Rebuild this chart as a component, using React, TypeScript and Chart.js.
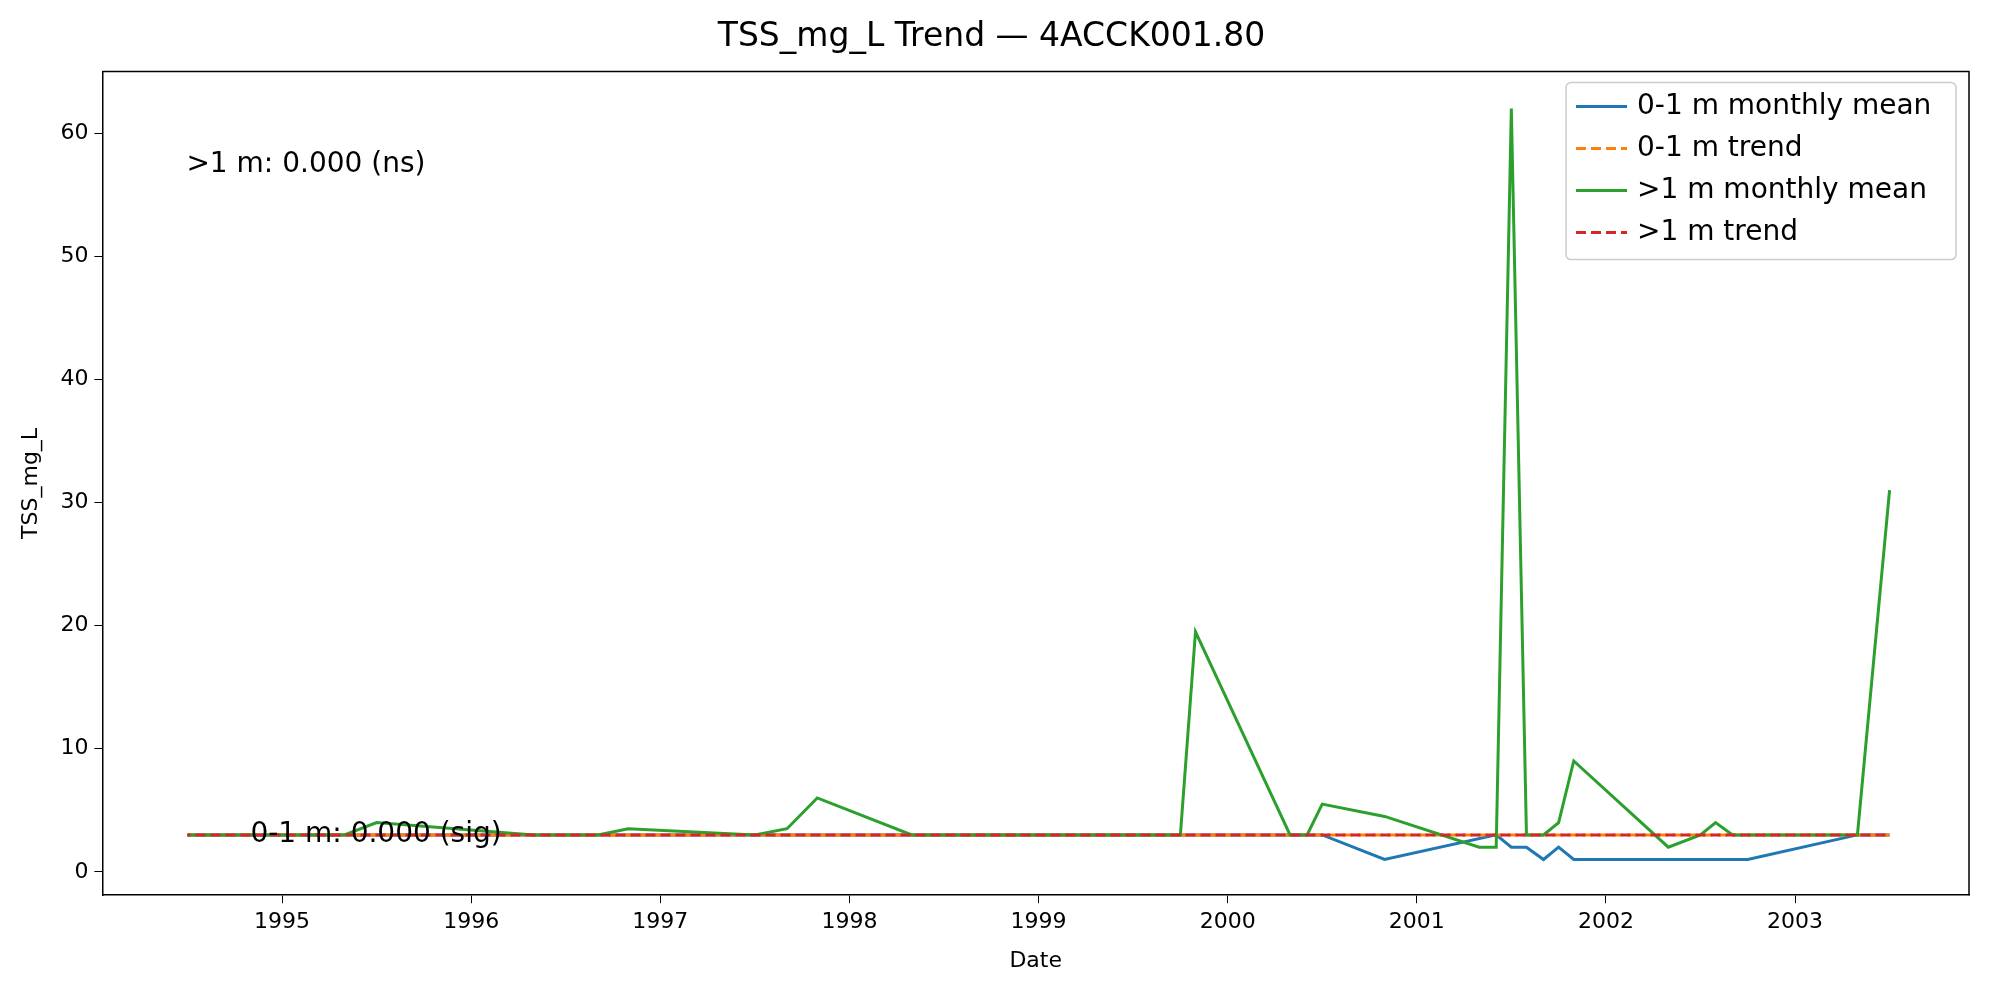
import React, { useEffect, useRef } from 'react';
import Chart from 'chart.js/auto';

const greenX = [1994.5, 1995.33, 1995.5, 1996.33, 1996.67, 1996.83, 1997.5, 1997.67, 1997.83, 1998.33, 1999.75, 1999.83, 2000.33, 2000.42, 2000.5, 2000.83, 2001.33, 2001.42, 2001.5, 2001.58, 2001.67, 2001.75, 2001.83, 2002.33, 2002.5, 2002.58, 2002.67, 2003.33, 2003.5];
const greenY = [3, 3, 4, 3, 3, 3.5, 3, 3.5, 6, 3, 3, 19.5, 3, 3, 5.5, 4.5, 2, 2, 62, 3, 3, 4, 9, 2, 3, 4, 3, 3, 31];
const blueX = [1994.5, 1995.33, 1996.33, 1997.5, 1998.33, 1999.75, 2000.42, 2000.5, 2000.83, 2001.42, 2001.5, 2001.58, 2001.67, 2001.75, 2001.83, 2002.75, 2003.33, 2003.5];
const blueY = [3, 3, 3, 3, 3, 3, 3, 3, 1, 3, 2, 2, 1, 2, 1, 1, 3, 3];
const trendX = [1994.5, 2003.5];
const trend01 = [3, 3];
const trendGt1 = [3, 3];
const yearTicks = [1995, 1996, 1997, 1998, 1999, 2000, 2001, 2002, 2003];
const yTicks = [0, 10, 20, 30, 40, 50, 60];

const pts = (xs: number[], ys: number[]) => xs.map((x, i) => ({ x, y: ys[i] }));
const FONT = 'DejaVu Sans';

const legendItems = [
  { label: '0-1 m monthly mean', color: '#1f77b4', dash: [] as number[] },
  { label: '0-1 m trend', color: '#ff7f0e', dash: [10, 5] },
  { label: '>1 m monthly mean', color: '#2ca02c', dash: [] as number[] },
  { label: '>1 m trend', color: '#d62728', dash: [10, 5] },
];

const overlay = {
  id: 'overlay',
  afterDraw(chart: any) {
    const { ctx, chartArea: a } = chart;
    ctx.save();
    // top and right spines
    ctx.strokeStyle = '#000';
    ctx.lineWidth = 1.5;
    ctx.beginPath();
    ctx.moveTo(a.left, a.top);
    ctx.lineTo(a.right, a.top);
    ctx.lineTo(a.right, a.bottom);
    ctx.stroke();

    ctx.font = `28px ${FONT}`;
    ctx.fillStyle = '#000';
    ctx.textBaseline = 'middle';
    ctx.textAlign = 'left';
    ctx.fillText('>1 m: 0.000 (ns)', a.left + 84, a.top + 93);
    ctx.fillText('0-1 m: 0.000 (sig)', a.left + 148, a.top + 763);
    // legend
    const w = 390, h = 177, x0 = a.right - w - 13, y0 = a.top + 11;
    ctx.fillStyle = 'rgba(255,255,255,0.8)';
    ctx.strokeStyle = '#ccc';
    ctx.lineWidth = 1.5;
    ctx.beginPath();
    ctx.roundRect(x0, y0, w, h, 5);
    ctx.fill();
    ctx.stroke();
    legendItems.forEach((it, i) => {
      const y = y0 + 24 + i * 42;
      ctx.strokeStyle = it.color;
      ctx.lineWidth = 3;
      ctx.setLineDash(it.dash);
      ctx.beginPath();
      ctx.moveTo(x0 + 10, y);
      ctx.lineTo(x0 + 61, y);
      ctx.stroke();
      ctx.setLineDash([]);
      ctx.fillStyle = '#000';
      ctx.fillText(it.label, x0 + 71, y);
    });
    ctx.restore();
  },
};

const App: React.FC = () => {
  const ref = useRef<HTMLCanvasElement>(null);

  useEffect(() => {
    document.body.style.margin = '0';
    if (!ref.current) return;
    const chart = new Chart(ref.current, {
      type: 'line',
      data: {
        datasets: [
          { label: '0-1 m monthly mean', data: pts(blueX, blueY), borderColor: '#1f77b4', borderWidth: 3, pointRadius: 0, order: 4 },
          { label: '0-1 m trend', data: pts(trendX, trend01), borderColor: '#ff7f0e', borderWidth: 3, borderDash: [10, 5], pointRadius: 0, order: 3 },
          { label: '>1 m monthly mean', data: pts(greenX, greenY), borderColor: '#2ca02c', borderWidth: 3, pointRadius: 0, order: 2 },
          { label: '>1 m trend', data: pts(trendX, trendGt1), borderColor: '#d62728', borderWidth: 3, borderDash: [10, 5], borderDashOffset: 7, pointRadius: 0, order: 1 },
        ],
      },
      options: {
        animation: false,
        responsive: true,
        maintainAspectRatio: false,
        layout: { padding: { left: 14, right: 31, top: 4, bottom: 22 } },
        plugins: {
          legend: { display: false },
          tooltip: { enabled: false },
          title: { display: true, text: 'TSS_mg_L Trend — 4ACCK001.80', color: '#000', font: { family: FONT, size: 33, weight: 'normal' }, padding: { top: 14, bottom: 14 } },
        },
        scales: {
          x: {
            type: 'linear',
            min: 1994.05,
            max: 2003.92,
            afterBuildTicks: (s: any) => { s.ticks = yearTicks.map((v) => ({ value: v })); },
            ticks: { color: '#000', font: { family: FONT, size: 22 }, padding: 6, callback: (v: any) => String(v) },
            grid: { drawOnChartArea: false, color: '#000', tickLength: 8 },
            border: { color: '#000', width: 1.5 },
            title: { display: true, text: 'Date', color: '#000', font: { family: FONT, size: 22 }, padding: { top: 6 } },
          },
          y: {
            min: -1.9,
            max: 65,
            afterBuildTicks: (s: any) => { s.ticks = yTicks.map((v) => ({ value: v })); },
            ticks: { color: '#000', font: { family: FONT, size: 22 }, padding: 6 },
            grid: { drawOnChartArea: false, color: '#000', tickLength: 8 },
            border: { color: '#000', width: 1.5 },
            title: { display: true, text: 'TSS_mg_L', color: '#000', font: { family: FONT, size: 22 }, padding: { bottom: 10 } },
          },
        },
      },
      plugins: [overlay],
    });
    return () => chart.destroy();
  }, []);

  return (
    <div style={{ width: '2000px', height: '1000px', background: '#fff' }}>
      <canvas ref={ref} />
    </div>
  );
};

export default App;
